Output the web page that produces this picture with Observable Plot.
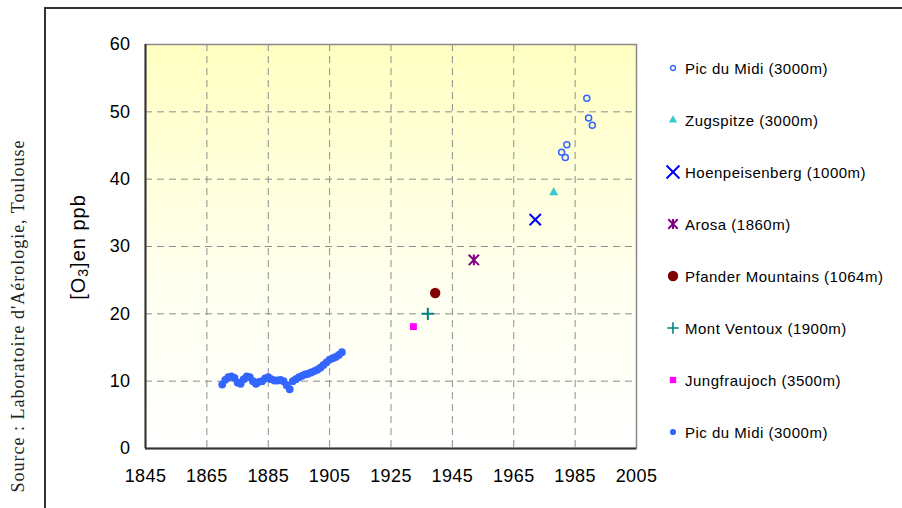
<!DOCTYPE html>
<html>
<head>
<meta charset="utf-8">
<script src="https://cdn.jsdelivr.net/npm/d3@7"></script>
<script src="https://cdn.jsdelivr.net/npm/@observablehq/plot@0.6"></script>
<style>
  body { margin: 0; background: #fff; }
  #wrap { position: relative; width: 902px; height: 508px; overflow: hidden; font-family: "Liberation Sans", Arial, sans-serif; }
  #outer { position: absolute; left: 44px; top: 7px; width: 900px; height: 600px; border-left: 2px solid #333; border-top: 2px solid #333; }
  #chart { position: absolute; left: 0; top: 0; }
  #ylabel { position: absolute; left: 78px; top: 247px; transform: translate(-50%, -50%) rotate(-90deg); white-space: nowrap; font-size: 20px; letter-spacing: 1px; color: #000; }
  #ylabel sub { font-size: 70%; vertical-align: -0.25em; line-height: 0; }
  #source { position: absolute; left: 18px; top: 316px; transform: translate(-50%, -50%) rotate(-90deg); white-space: nowrap; font-family: "Liberation Serif", "Times New Roman", serif; font-size: 18px; letter-spacing: 1px; color: #222; }
  #legend { position: absolute; left: 665px; top: 42px; }
  .item { display: flex; align-items: center; height: 52px; font-size: 15px; letter-spacing: 0.5px; color: #000; white-space: nowrap; }
  .item svg { width: 16px; height: 16px; margin-right: 4px; overflow: visible; }
</style>
</head>
<body>
<div id="wrap">
  <div id="outer"></div>
  <div id="chart"></div>
  <div id="ylabel">[O<sub>3</sub>]en ppb</div>
  <div id="source">Source : Laboratoire d'Aérologie, Toulouse</div>
  <div id="legend"></div>
</div>
<script>
// ---- Data ----
// Pic du Midi, early series (filled dots)
const picEarlyYears = [1870,1871,1872,1873,1874,1875,1876,1877,1878,1879,
                       1880,1881,1882,1883,1884,1885,1886,1887,1888,1889,
                       1890,1891,1892,1893,1894,1895,1896,1897,1898,1899,
                       1900,1901,1902,1903,1904,1905,1906,1907,1908,1909];
const picEarlyO3 = [9.5,10.2,10.6,10.7,10.5,9.8,9.6,10.3,10.7,10.6,
                    10.0,9.6,9.9,10.0,10.4,10.6,10.3,10.1,10.1,10.2,
                    10.0,9.4,8.8,10.0,10.3,10.6,10.8,11.0,11.1,11.3,
                    11.5,11.7,12.0,12.4,12.8,13.2,13.4,13.6,13.9,14.3];
// Pic du Midi, recent series (open circles)
const picLateYears = [1980.6,1981.8,1982.3,1988.8,1989.4,1990.6];
const picLateO3 = [44.0,43.2,45.1,52.0,49.1,48.0];
// Single-station measurements
const stationNames = ["Zugspitze (3000m)","Hoenpeisenberg (1000m)","Arosa (1860m)",
                      "Pfander Mountains (1064m)","Mont Ventoux (1900m)","Jungfraujoch (3500m)"];
const stationYears = [1978, 1972, 1952, 1939.4, 1937, 1932.3];
const stationO3 = [38.0, 34.0, 28.0, 23.1, 20.0, 18.1];
// Axis ticks
const xTicks = [1845,1865,1885,1905,1925,1945,1965,1985,2005];
const yTicks = [0,10,20,30,40,50,60];
const legendLabels = ["Pic du Midi (3000m)","Zugspitze (3000m)","Hoenpeisenberg (1000m)","Arosa (1860m)",
                      "Pfander Mountains (1064m)","Mont Ventoux (1900m)","Jungfraujoch (3500m)","Pic du Midi (3000m)"];

// ---- Styles ----
const excelStar = {
  draw(ctx, size) {
    const h = Math.sqrt(size) / 2;
    ctx.moveTo(-h, -h); ctx.lineTo(h, h);
    ctx.moveTo(-h, h); ctx.lineTo(h, -h);
    ctx.moveTo(0, -h * 1.05); ctx.lineTo(0, h * 1.05);
  }
};
const stationStyles = [
  {symbol: "triangle", fill: "#33cccc", stroke: "none", r: 3.4, sw: 0},
  {symbol: "times", fill: "none", stroke: "#0000ff", r: 5.2, sw: 2},
  {symbol: excelStar, fill: "none", stroke: "#800080", r: 5.8, sw: 2},
  {symbol: "circle", fill: "#800000", stroke: "none", r: 5.2, sw: 0},
  {symbol: "plus", fill: "none", stroke: "#008080", r: 4.0, sw: 2},
  {symbol: "square", fill: "#ff00ff", stroke: "none", r: 3.9, sw: 0}
];

const early = picEarlyYears.map((y, i) => ({year: y, o3: picEarlyO3[i]}));
const late = picLateYears.map((y, i) => ({year: y, o3: picLateO3[i]}));
const stations = stationNames.map((n, i) => ({name: n, year: stationYears[i], o3: stationO3[i]}));

const stationMarks = stations.map((d, i) => {
  const s = stationStyles[i];
  return Plot.dot([d], {x: "year", y: "o3", symbol: s.symbol, r: s.r, fill: s.fill, stroke: s.stroke, strokeWidth: s.sw});
});

const plot = Plot.plot({
  width: 902,
  height: 508,
  marginLeft: 145,
  marginRight: 266,
  marginTop: 44,
  marginBottom: 60,
  style: {fontFamily: "'Liberation Sans', Arial, sans-serif", fontSize: "18px", color: "#000", background: "transparent", overflow: "visible"},
  x: {domain: [1845, 2005], ticks: xTicks, tickFormat: d => String(d), tickSize: 0, tickPadding: 21, label: null},
  y: {domain: [0, 60], ticks: yTicks, tickSize: 0, tickPadding: 15, label: null},
  marks: [
    Plot.frame({fill: "url(#plotbg)", stroke: "none"}),
    Plot.ruleX(xTicks.slice(1, -1), {stroke: "#8c8c8c", strokeWidth: 1, strokeDasharray: "7,5"}),
    Plot.ruleY(yTicks.slice(1, -1), {stroke: "#8c8c8c", strokeWidth: 1, strokeDasharray: "7,5"}),
    Plot.frame({stroke: "#8a8a8a", strokeWidth: 1.5}),
    Plot.ruleY([0], {stroke: "#333", strokeWidth: 2}),
    Plot.ruleX([1845], {stroke: "#333", strokeWidth: 2}),
    Plot.dot(early, {x: "year", y: "o3", r: 3.9, fill: "#3366ff"}),
    ...stationMarks,
    Plot.dot(late, {x: "year", y: "o3", r: 3, fill: "none", stroke: "#3366ff", strokeWidth: 1.5})
  ]
});

d3.select(plot).insert("defs", ":first-child").html(
  '<linearGradient id="plotbg" x1="0" y1="0" x2="0" y2="1">' +
  '<stop offset="0" stop-color="#ffffc2"/><stop offset="0.6" stop-color="#fffff0"/><stop offset="1" stop-color="#ffffff"/></linearGradient>'
);
d3.select(plot).selectAll("text").style("letter-spacing", "0.4px");
document.getElementById("chart").appendChild(plot);

// ---- Legend ----
const legendStyles = [
  {type: d3.symbolCircle, size: 20, fill: "none", stroke: "#3366ff", sw: 1.5},
  {type: d3.symbolTriangle, size: 30, fill: "#33cccc", stroke: "none", sw: 0},
  {type: d3.symbolTimes, size: 110, fill: "none", stroke: "#0000ff", sw: 2},
  {type: excelStar, size: 90, fill: "none", stroke: "#800080", sw: 2},
  {type: d3.symbolCircle, size: 85, fill: "#800000", stroke: "none", sw: 0},
  {type: d3.symbolPlus, size: 45, fill: "none", stroke: "#008080", sw: 1.6},
  {type: d3.symbolSquare, size: 40, fill: "#ff00ff", stroke: "none", sw: 0},
  {type: d3.symbolCircle, size: 30, fill: "#3366ff", stroke: "none", sw: 0}
];
const legend = d3.select("#legend");
legendLabels.forEach((label, i) => {
  const s = legendStyles[i];
  const item = legend.append("div").attr("class", "item");
  const svg = item.append("svg").attr("viewBox", "-8 -8 16 16");
  svg.append("path").attr("d", d3.symbol(s.type, s.size)())
    .attr("fill", s.fill).attr("stroke", s.stroke).attr("stroke-width", s.sw);
  item.append("span").text(label);
});
</script>
</body>
</html>
